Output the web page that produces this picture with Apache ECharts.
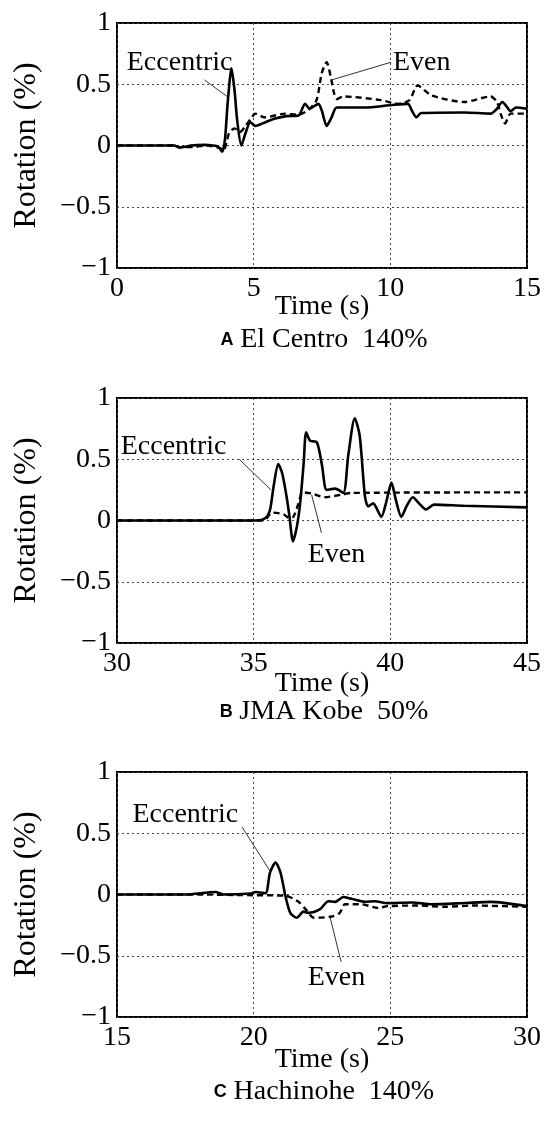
<!DOCTYPE html>
<html>
<head>
<meta charset="utf-8">
<script src="https://cdn.jsdelivr.net/npm/echarts@6/dist/echarts.min.js"></script>
<style>
  html, body { margin: 0; padding: 0; background: #fff; }
  #chart { width: 544px; height: 1128px; }
</style>
</head>
<body>
<div id="chart"></div>
<script>
// ---- Rotation response histories (time in s, rotation in %) ----
// A: El Centro 140%
const elCentroEccT = [0, 2.1, 2.25, 2.5, 2.7, 3.2, 3.5, 3.7, 3.85, 3.95, 4.05, 4.19, 4.3, 4.4, 4.55, 4.7, 4.88, 5.06, 5.43, 5.79, 6.2, 6.64, 6.88, 7.05, 7.2, 7.37, 7.5, 7.67, 7.85, 8.04, 9.07, 10.04, 10.64, 10.8, 10.95, 11.13, 12.7, 13.67, 13.9, 14.1, 14.25, 14.4, 14.6, 15];
const elCentroEccV = [0, 0, -0.015, -0.01, 0, 0.005, 0, -0.01, -0.05, 0.05, 0.35, 0.63, 0.45, 0.2, 0.0, 0.1, 0.19, 0.16, 0.19, 0.22, 0.24, 0.245, 0.34, 0.30, 0.32, 0.34, 0.28, 0.16, 0.23, 0.31, 0.31, 0.33, 0.34, 0.28, 0.23, 0.265, 0.27, 0.26, 0.30, 0.355, 0.32, 0.28, 0.31, 0.30];
const elCentroEvenT = [0, 2.1, 2.3, 2.9, 3.3, 3.75, 3.9, 4.0, 4.1, 4.3, 4.5, 4.7, 4.9, 5.06, 5.4, 6.15, 6.6, 7.0, 7.3, 7.49, 7.67, 7.82, 7.95, 8.04, 8.3, 9.67, 10.28, 10.7, 11.0, 11.5, 12.7, 13.67, 13.9, 14.05, 14.2, 14.4, 15];
const elCentroEvenV = [0, 0, -0.015, -0.01, 0, -0.02, -0.04, 0.02, 0.1, 0.14, 0.11, 0.16, 0.22, 0.26, 0.23, 0.26, 0.25, 0.29, 0.37, 0.59, 0.68, 0.56, 0.42, 0.38, 0.40, 0.37, 0.34, 0.37, 0.49, 0.41, 0.355, 0.40, 0.355, 0.25, 0.18, 0.26, 0.26];

// B: JMA Kobe 50%
const kobeEccT = [30, 35.07, 35.43, 35.6, 35.73, 35.9, 36.05, 36.2, 36.3, 36.44, 36.58, 36.7, 36.83, 36.92, 37.07, 37.31, 37.5, 37.67, 37.98, 38.28, 38.46, 38.7, 38.88, 39.07, 39.19, 39.37, 39.67, 39.85, 40.04, 40.2, 40.4, 40.6, 40.82, 41.05, 41.3, 41.6, 42.7, 45];
const kobeEccV = [0, 0, 0.02, 0.09, 0.28, 0.46, 0.38, 0.2, 0.05, -0.17, -0.05, 0.14, 0.47, 0.72, 0.65, 0.64, 0.45, 0.25, 0.26, 0.225, 0.53, 0.835, 0.69, 0.2, 0.115, 0.14, 0.03, 0.15, 0.31, 0.17, 0.03, 0.12, 0.19, 0.14, 0.09, 0.13, 0.12, 0.107];
const kobeEvenT = [30, 35.37, 35.67, 36.1, 36.3, 36.45, 36.64, 36.79, 37.13, 37.6, 38.2, 38.58, 45];
const kobeEvenV = [0, 0, 0.065, 0.05, 0.02, 0.03, 0.14, 0.23, 0.22, 0.19, 0.21, 0.225, 0.23];

// C: Hachinohe 140%
const hachiEccT = [15, 17.5, 18.6, 18.9, 19.9, 20.07, 20.43, 20.6, 20.8, 20.98, 21.16, 21.34, 21.58, 21.82, 22.0, 22.43, 22.73, 22.98, 23.28, 23.58, 24.07, 24.43, 24.9, 25.8, 26.5, 27.7, 28.67, 30];
const hachiEccV = [0, 0, 0.02, 0, 0.008, 0.02, 0.01, 0.18, 0.26, 0.18, -0.01, -0.15, -0.19, -0.14, -0.15, -0.12, -0.055, -0.06, -0.02, -0.035, -0.06, -0.055, -0.07, -0.065, -0.08, -0.07, -0.06, -0.095];
const hachiEvenT = [15, 18, 19.5, 21.16, 21.64, 21.9, 22.2, 22.85, 23.15, 23.34, 23.95, 24.55, 24.9, 26, 27, 28, 30];
const hachiEvenV = [0, 0, -0.005, -0.01, -0.06, -0.12, -0.19, -0.18, -0.15, -0.08, -0.08, -0.11, -0.095, -0.09, -0.1, -0.09, -0.1];

// Axis ranges and ticks
const xRanges = [[0, 15], [30, 45], [15, 30]];
const xTickStep = 5;
const yTicks = [-1, -0.5, 0, 0.5, 1];

// Panel captions
const captionLetters = ['A', 'B', 'C'];
const captionTexts = ['El Centro  140%', 'JMA Kobe  50%', 'Hachinohe  140%'];

// Callout labels: text anchor and leader line ends, in data units [t, rotation]
const eccLabelAt = [[2.29, 0.68], [32.07, 0.60], [17.5, 0.65]];
const eccLeader = [[[3.2, 0.535], [4.03, 0.40]], [[34.47, 0.50], [35.63, 0.25]], [[19.58, 0.55], [20.63, 0.18]]];
const evenLabelAt = [[11.15, 0.68], [38.03, -0.28], [23.03, -0.68]];
const evenLeader = [[[10.03, 0.68], [7.85, 0.535]], [[37.48, -0.10], [37.12, 0.21]], [[23.2, -0.55], [22.8, -0.19]]];

const panels = [
  { ecc: [elCentroEccT, elCentroEccV], even: [elCentroEvenT, elCentroEvenV] },
  { ecc: [kobeEccT, kobeEccV], even: [kobeEvenT, kobeEvenV] },
  { ecc: [hachiEccT, hachiEccV], even: [hachiEvenT, hachiEvenV] }
];

const SERIF = '"Liberation Serif", "Times New Roman", Times, serif';
const SANS = '"Liberation Sans", Arial, sans-serif';

// Layout of the three stacked plots
const gridTops = [23, 398, 772];
const gridH = 245;
const gridLeft = 117, gridW = 414;
const timeNameGap = [25, 27, 29];
const captionY = [340, 712, 1092];

const zip = (t, v) => t.map((x, i) => [x, v[i]]);
const fmtY = v => (v < 0 ? '\u2212' + Math.abs(v) : String(v));

const grid = [], xAxis = [], yAxis = [], series = [], graphic = [];

panels.forEach((p, i) => {
  grid.push({
    left: gridLeft, top: gridTops[i], width: gridW, height: gridH,
    show: true, borderColor: '#000', borderWidth: 2, backgroundColor: 'transparent'
  });
  xAxis.push({
    type: 'value', gridIndex: i,
    min: xRanges[i][0], max: xRanges[i][1], interval: xTickStep,
    name: 'Time (s)', nameLocation: 'middle', nameGap: timeNameGap[i], nameMoveOverlap: false,
    nameTextStyle: { fontFamily: SERIF, fontSize: 28, color: '#000' },
    axisLine: { show: false }, axisTick: { show: false },
    axisLabel: { fontFamily: SERIF, fontSize: 28, color: '#000', margin: 7, showMinLabel: true, showMaxLabel: true },
    splitLine: { show: true, lineStyle: { type: [2, 3], color: '#444', width: 1 } }
  });
  yAxis.push({
    type: 'value', gridIndex: i,
    min: yTicks[0], max: yTicks[yTicks.length - 1], interval: 0.5,
    name: 'Rotation (%)', nameLocation: 'middle', nameGap: 74, nameMoveOverlap: false,
    nameTextStyle: { fontFamily: SERIF, fontSize: 32, color: '#000' },
    axisLine: { show: false }, axisTick: { show: false },
    axisLabel: { fontFamily: SERIF, fontSize: 28, color: '#000', margin: 6, formatter: fmtY },
    splitLine: { show: true, lineStyle: { type: [2, 3], color: '#444', width: 1 } }
  });

  const leader = seg => [{ coord: seg[0] }, { coord: seg[1] }];
  const callout = (at, txt) => ({
    symbol: 'circle', symbolSize: 0, silent: true,
    label: { show: true, position: 'inside', formatter: txt, color: '#000', fontFamily: SERIF, fontSize: 28 },
    data: [{ coord: at }]
  });

  series.push({
    name: 'Eccentric', type: 'line', xAxisIndex: i, yAxisIndex: i,
    data: zip(p.ecc[0], p.ecc[1]), showSymbol: false, symbol: 'none',
    smooth: 0.25, z: 4,
    lineStyle: { color: '#000', width: 2.6 },
    markLine: {
      silent: true, symbol: ['none', 'none'], label: { show: false },
      lineStyle: { color: '#333', width: 1, type: 'solid' },
      data: [leader(eccLeader[i])]
    },
    markPoint: callout(eccLabelAt[i], 'Eccentric')
  });
  series.push({
    name: 'Even', type: 'line', xAxisIndex: i, yAxisIndex: i,
    data: zip(p.even[0], p.even[1]), showSymbol: false, symbol: 'none',
    smooth: 0.25, z: 3,
    lineStyle: { color: '#000', width: 2.4, type: [6, 4] },
    markLine: {
      silent: true, symbol: ['none', 'none'], label: { show: false },
      lineStyle: { color: '#333', width: 1, type: 'solid' },
      data: [leader(evenLeader[i])]
    },
    markPoint: callout(evenLabelAt[i], 'Even')
  });

  graphic.push({
    type: 'text', x: gridLeft + gridW / 2, y: captionY[i],
    style: {
      text: '{l|' + captionLetters[i] + '}  {t|' + captionTexts[i] + '}',
      align: 'center', verticalAlign: 'middle',
      rich: {
        l: { fontFamily: SANS, fontWeight: 'bold', fontSize: 18, fill: '#000' },
        t: { fontFamily: SERIF, fontSize: 28, fill: '#000' }
      }
    }
  });
});

const chart = echarts.init(document.getElementById('chart'), null, { renderer: 'canvas' });
chart.setOption({
  backgroundColor: '#fff',
  animation: false,
  grid, xAxis, yAxis, series, graphic
});
</script>
</body>
</html>
